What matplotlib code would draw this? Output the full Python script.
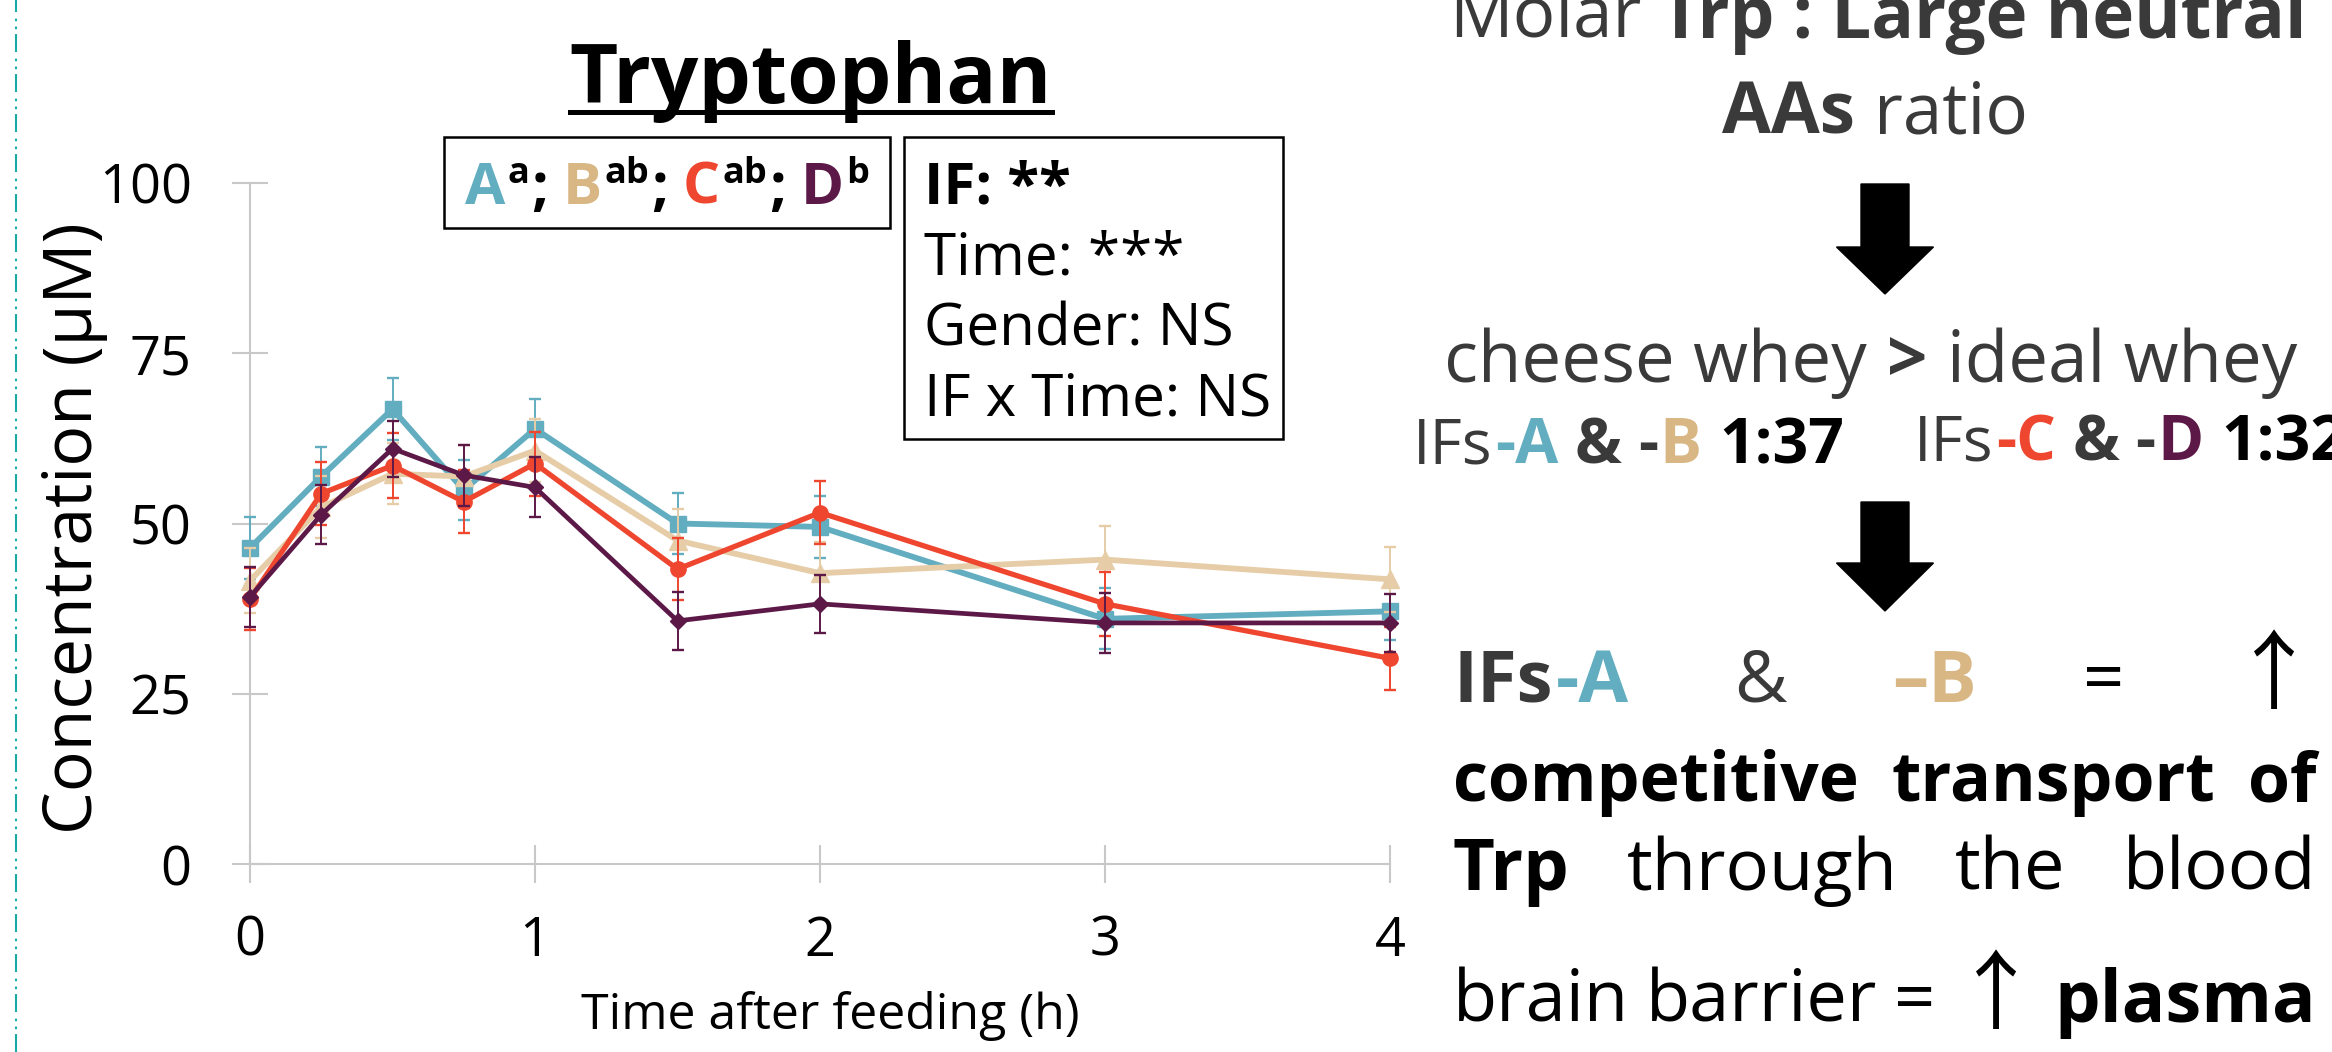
import matplotlib
matplotlib.use('Agg')
import matplotlib.pyplot as plt
from matplotlib.patches import Rectangle, Polygon
from matplotlib.lines import Line2D

W, H = 2332, 1052

# plasma Trp (uM) after feeding, mean and SEM per infant formula
times = [0, 0.25, 0.5, 0.75, 1, 1.5, 2, 3, 4]
trp_a = [46.4, 56.9, 66.8, 54.9, 63.9, 50.0, 49.5, 36.0, 37.1]
trp_b = [41.6, 52.4, 57.3, 56.9, 60.7, 47.5, 42.7, 44.7, 41.8]
trp_c = [38.9, 54.4, 58.5, 53.2, 58.8, 43.3, 51.6, 38.2, 30.2]
trp_d = [39.2, 51.3, 61.0, 57.1, 55.3, 35.7, 38.2, 35.4, 35.4]
sem_a = [4.5, 4.4, 4.5, 4.4, 4.4, 4.5, 4.5, 4.5, 4.2]
sem_b = [4.8, 4.6, 4.5, 4.6, 4.6, 4.7, 4.6, 4.9, 4.8]
sem_c = [4.6, 4.6, 4.8, 4.6, 4.7, 4.6, 4.6, 4.7, 4.6]
sem_d = [4.4, 4.3, 4.1, 4.5, 4.4, 4.3, 4.3, 4.4, 4.3]

xticks = [0, 1, 2, 3, 4]
yticks = [0, 25, 50, 75, 100]
stats_lines = ['IF: **', 'Time: ***', 'Gender: NS', 'IF x Time: NS']

teal = '#62ADBF'
tan = '#E6CDA8'
tan_txt = '#D8B784'
red = '#EE462F'
purple = '#5C1948'
grey_txt = '#3A3A3A'
axis_grey = '#C8C8C8'

plt.rcParams['font.family'] = ['Open Sans', 'DejaVu Sans']

fig = plt.figure(figsize=(W / 100, H / 100), dpi=100)
renderer = fig.canvas.get_renderer()


def fx(x):
    return x / W


def fy(y):
    return 1 - y / H


def measure(runs):
    # runs: (text, props, gap before in px, rise in px)
    items = []
    total = 0
    for s, kw, gap, rise in runs:
        t = fig.text(0, 0, s, va='baseline', ha='left', **kw)
        w = t.get_window_extent(renderer).width
        items.append((t, gap, rise, w))
        total += gap + w
    return items, total


def place(items, x, y):
    for t, gap, rise, w in items:
        x += gap
        t.set_position((fx(x), fy(y - rise)))
        x += w


def draw_runs(runs, x, y, align='left'):
    items, total = measure(runs)
    if align == 'center':
        x -= total / 2
    place(items, x, y)


def justify(words, y, x0, x1):
    measured = [measure(w) for w in words]
    space = (x1 - x0 - sum(m[1] for m in measured)) / (len(words) - 1)
    x = x0
    for items, total in measured:
        place(items, x, y)
        x += total + space


def down_arrow(cx, top, neck, tip, shaft=48, head=97):
    pts = [(cx - shaft / 2, top), (cx + shaft / 2, top), (cx + shaft / 2, neck),
           (cx + head / 2, neck), (cx, tip), (cx - head / 2, neck), (cx - shaft / 2, neck)]
    fig.patches.append(Polygon([(fx(a), fy(b)) for a, b in pts], closed=True,
                               transform=fig.transFigure, color='black'))


# ---- chart ----
ax = fig.add_axes([fx(250), fy(864), 1140 / W, (864 - 183) / H])
series = [(trp_a, sem_a, teal, 's', 12, 4.2),
          (trp_b, sem_b, tan, '^', 12.5, 4.2),
          (trp_c, sem_c, red, 'o', 11, 3.8),
          (trp_d, sem_d, purple, 'D', 8.5, 3.4)]
for i, (vals, err, col, mk, ms, lw) in enumerate(series):
    ax.errorbar(times, vals, yerr=err, color=col, marker=mk, markersize=ms,
                linewidth=lw, elinewidth=1.4, capsize=4.5, capthick=1.7,
                clip_on=False, zorder=3 + i)

ax.set_xlim(0, 4)
ax.set_ylim(0, 100)
ax.set_xticks(xticks)
ax.set_yticks(yticks)
for s in ['top', 'right']:
    ax.spines[s].set_visible(False)
for s in ['left', 'bottom']:
    ax.spines[s].set_color(axis_grey)
    ax.spines[s].set_linewidth(1.5)
ax.tick_params(axis='y', direction='inout', length=26, width=1.5, color=axis_grey,
               labelsize=39, pad=29)
ax.tick_params(axis='x', direction='inout', length=28, width=1.5, color=axis_grey,
               labelsize=39, pad=22)
ax.set_xlabel('Time after feeding (h)', fontsize=36, va='baseline')
ax.xaxis.set_label_coords((830 - 250) / 1140, (864 - 1029) / 681)
ax.set_ylabel('Concentration (µM)', fontsize=49)
ax.yaxis.set_label_coords((108 - 250) / 1140, (864 - 528) / 681)

# title with underline
title = fig.text(fx(811), fy(103), 'Tryptophan', fontsize=60, fontweight='bold',
                 ha='center', va='baseline')
bb = title.get_window_extent(renderer)
fig.lines.append(Line2D([bb.x0 / W, bb.x1 / W], [fy(112), fy(112)], color='black',
                        linewidth=3.6, transform=fig.transFigure))

# boxes
for x0, y0, x1, y1 in [(444, 137, 890, 228), (904, 137, 1283, 439)]:
    fig.patches.append(Rectangle((fx(x0), fy(y1)), (x1 - x0) / W, (y1 - y0) / H,
                                 fill=False, edgecolor='black', linewidth=1.8,
                                 transform=fig.transFigure))

big = dict(fontsize=42, fontweight='bold')
sup = dict(fontsize=26, fontweight='bold', color='black')
semi = dict(fontsize=42, fontweight='bold', color='black')
letters = [('A', teal, 'a'), ('B', tan_txt, 'ab'), ('C', red, 'ab'), ('D', purple, 'b')]
runs = []
for k, (letter, col, grp) in enumerate(letters):
    runs.append((letter, dict(big, color=col), 15 if k else 0, 0))
    runs.append((grp, sup, 2, 21))
    if k < len(letters) - 1:
        runs.append((';', semi, 2, 0))
draw_runs(runs, 667, 204, align='center')

for k, line in enumerate(stats_lines):
    fig.text(fx(924), fy(204 + 70.5 * k), line, fontsize=42,
             fontweight='bold' if k == 0 else 'normal', va='baseline', ha='left')

# ---- right hand text ----
reg = dict(fontsize=51, color=grey_txt)
bold = dict(fontsize=51, color=grey_txt, fontweight='bold')
draw_runs([('Molar', reg, 0, 0), ('Trp : Large neutral', bold, 18, 0)], 1878, 38, 'center')
draw_runs([('AAs', bold, 0, 0), ('ratio', reg, 18, 0)], 1875, 133, 'center')
down_arrow(1885, 184, 247, 294)
draw_runs([('cheese whey', reg, 0, 0), ('>', bold, 20, 0), ('ideal whey', reg, 20, 0)],
          1871, 382, 'center')

r45 = dict(fontsize=45, color=grey_txt)
b45 = dict(fontsize=45, color=grey_txt, fontweight='bold')
k45 = dict(fontsize=45, color='black', fontweight='bold')
for x0, y0, c1, l1, c2, l2, ratio in [(1413, 463, teal, '-A', tan_txt, 'B', '1:37'),
                                      (1914, 460, red, '-C', purple, 'D', '1:32')]:
    draw_runs([('IFs', r45, 0, 0), (l1, dict(b45, color=c1), 3, 0), ('&', b45, 16, 0),
               ('-', b45, 16, 0), (l2, dict(b45, color=c2), 2, 0), (ratio, k45, 18, 0)],
              x0, y0)
down_arrow(1885, 502, 563, 611)

p_reg = dict(fontsize=52, color='black')
p_bold = dict(fontsize=52, color='black', fontweight='bold')
p_bold2 = dict(fontsize=49, color='black', fontweight='bold')
arrow_up = dict(fontsize=62, color='black', family='Noto Sans CJK JP')
paragraph = [
    (702, [[('IFs', dict(p_bold, color=grey_txt), 0, 0), ('-A', dict(p_bold, color=teal), 3, 0)],
           [('&', dict(p_reg, color=grey_txt), 0, 0)],
           [('–B', dict(p_bold, color=tan_txt), 0, 0)],
           [('=', p_reg, 0, 0)],
           [('↑', arrow_up, 0, 0)]]),
    (801, [[('competitive', p_bold2, 0, 0)], [('transport', p_bold2, 0, 0)],
           [('of', p_bold2, 0, 0)]]),
    (890, [[('Trp', p_bold, 0, 0)], [('through', p_reg, 0, 0)], [('the', p_reg, 0, 0)],
           [('blood', p_reg, 0, 0)]]),
    (1022, [[('brain', p_reg, 0, 0)], [('barrier', p_reg, 0, 0)], [('=', p_reg, 0, 0)],
            [('↑', arrow_up, 0, 0)], [('plasma', p_bold, 0, 0)]]),
]
for y, words in paragraph:
    justify(words, y, 1453, 2316)

# dash-dot frame edge on the left
fig.lines.append(Line2D([fx(16), fx(16)], [0, 1], color='#16A9A6', linewidth=1.5,
                        linestyle=(0, (8.6, 2.4, 1.2, 2.6, 1.2, 3.2)),
                        transform=fig.transFigure))

fig.savefig('out.png', dpi=100)
